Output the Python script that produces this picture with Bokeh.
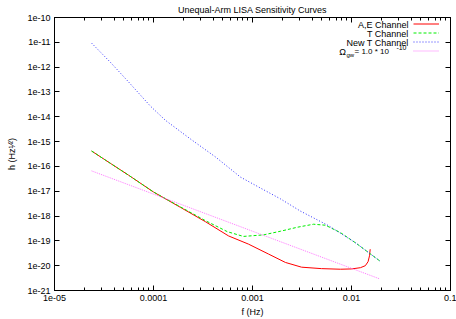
from bokeh.plotting import figure
from bokeh.models import (FixedTicker, CustomJSTickFormatter, LogAxis, Label,
                          Legend, LegendItem, Range1d, Title)
from bokeh.embed import file_html
from bokeh.resources import INLINE

# ---------------- data ----------------
title_text = "Unequal-Arm LISA Sensitivity Curves"
x_label = "f (Hz)"
y_label = "h (Hz\u00b9\u2044\u00b2)"
x_ticks = [1e-5, 1e-4, 1e-3, 1e-2, 1e-1]
x_minor = [m * 10.0 ** e for e in range(-5, -1) for m in range(2, 10)]
y_ticks = [10.0 ** e for e in range(-21, -9)]

series_names = ["A,E Channel", "T Channel", "New T Channel"]

ae_f = [2.37e-5, 3.68e-5, 5.58e-5, 1.0e-4, 1.87e-4, 3.35e-4, 5.73e-4, 9.1e-4,
        1.45e-3, 2.15e-3, 3.13e-3, 4.98e-3, 7.74e-3, 1.0e-2, 1.23e-2, 1.38e-2,
        1.47e-2, 1.52e-2, 1.545e-2]
ae_h = [4.17e-16, 1.32e-16, 4.47e-17, 9.3e-18, 2.24e-18, 5.9e-19, 1.58e-19, 7.4e-20,
        2.95e-20, 1.35e-20, 8.7e-21, 7.6e-21, 7.2e-21, 7.4e-21, 8.3e-21, 1.0e-20,
        1.45e-20, 2.5e-20, 4.6e-20]

t_f = [2.37e-5, 3.68e-5, 5.58e-5, 1.0e-4, 1.87e-4, 3.35e-4, 5.58e-4, 8.1e-4,
       1.29e-3, 1.92e-3, 2.85e-3, 4.13e-3, 5.46e-3, 7.74e-3, 1.1e-2, 1.92e-2]
t_h = [4.17e-16, 1.32e-16, 4.47e-17, 9.3e-18, 2.34e-18, 6.5e-19, 2.34e-19, 1.51e-19,
       1.74e-19, 2.45e-19, 3.55e-19, 4.68e-19, 4.27e-19, 2.14e-19, 8.3e-20, 1.58e-20]

newt_f = [2.37e-5, 3.68e-5, 5.58e-5, 9.3e-5, 1.32e-4, 2.37e-4, 4.23e-4, 7.57e-4,
          1.2e-3, 1.92e-3, 3.05e-3, 5.86e-3, 1.1e-2, 1.92e-2]
newt_h = [9.3e-12, 1.55e-12, 2.57e-13, 2.69e-14, 7.2e-15, 1.26e-15, 2.4e-16, 3.7e-17,
          1.35e-17, 4.9e-18, 1.58e-18, 4.1e-19, 8.3e-20, 1.58e-20]

omega_f = [2.37e-5, 1.0e-3, 1.92e-2]
omega_h = [6.6e-17, 2.45e-19, 2.95e-21]

FONT = "Liberation Sans"

p = figure(width=456, height=319, x_axis_type="log", y_axis_type="log",
           x_range=Range1d(1e-5, 0.1), y_range=Range1d(1e-21, 1e-10),
           output_backend="svg", toolbar_location=None,
           min_border_left=54, min_border_right=6, min_border_top=16,
           min_border_bottom=29)
p.grid.visible = False
p.outline_line_color = "black"
p.outline_line_width = 1
p.background_fill_color = "white"
p.border_fill_color = "white"

xfmt = CustomJSTickFormatter(code="""
const e = Math.round(Math.log10(tick));
if (e >= -4) { return tick.toFixed(-e); }
const a = Math.abs(e);
return "1e-" + (a < 10 ? "0" + a : "" + a);
""")
yfmt = CustomJSTickFormatter(code="""
const e = Math.round(Math.log10(tick));
return "1e" + e;
""")
nofmt = CustomJSTickFormatter(code="return '';")

def style_axis(ax, ticks, minor, show_labels, fmt):
    ax.ticker = FixedTicker(ticks=ticks, minor_ticks=minor)
    ax.formatter = fmt
    ax.major_tick_in = 5
    ax.major_tick_out = 0
    ax.minor_tick_in = 3
    ax.minor_tick_out = 0
    ax.axis_line_color = "black"
    ax.major_tick_line_color = "black"
    ax.minor_tick_line_color = "black"
    ax.major_label_text_font = FONT
    ax.major_label_text_color = "black"
    ax.axis_label_text_font = FONT
    ax.axis_label_text_font_style = "normal"
    ax.axis_label_text_font_size = "9px"
    ax.axis_label_text_color = "black"
    if show_labels:
        ax.major_label_text_font_size = "9px"
        ax.major_label_standoff = 4
    else:
        ax.major_label_text_font_size = "1px"
        ax.major_label_standoff = 0
        ax.major_label_text_alpha = 0

style_axis(p.xaxis[0], x_ticks, x_minor, True, xfmt)
style_axis(p.yaxis[0], y_ticks, [], True, yfmt)
p.yaxis[0].major_label_standoff = 4
p.xaxis[0].axis_label = x_label
p.xaxis[0].axis_label_standoff = 3
p.yaxis[0].axis_label = y_label
p.yaxis[0].axis_label_standoff = 7

top = LogAxis()
style_axis(top, x_ticks, x_minor, False, nofmt)
right = LogAxis()
style_axis(right, y_ticks, [], False, nofmt)
p.add_layout(right, "right")
title = Title(text=title_text, align="center", text_font=FONT, text_font_size="9px",
              text_font_style="normal", text_color="black", standoff=5, offset=0)
p.title_location = None
p.above = [top, title]

r_ae = p.line(ae_f, ae_h, line_color="#ff0000", line_width=1)
r_t = p.line(t_f, t_h, line_color="#00ee00", line_width=1, line_dash="3 2")
r_nt = p.line(newt_f, newt_h, line_color="#3030ff", line_width=1, line_dash="1 2")
r_om = p.line(omega_f, omega_h, line_color="#ff55ff", line_width=1, line_dash="1 1",
              line_alpha=0.8)

legend = Legend(items=[LegendItem(label=" ", renderers=[r]) for r in (r_ae, r_t, r_nt, r_om)],
                location=(359, 235), glyph_width=26, glyph_height=9, label_height=9,
                label_width=0, label_standoff=0, spacing=0, padding=0, margin=0,
                border_line_alpha=0, background_fill_alpha=0,
                label_text_font_size="1px")
p.add_layout(legend, "center")

def lab(text, x, y, size="9px", align="right", baseline="middle"):
    p.add_layout(Label(text=text, x=x, y=y, x_units="screen", y_units="screen",
                       text_font=FONT, text_font_size=size, text_align=align,
                       text_baseline=baseline, text_color="black"))

# legend texts
lab(series_names[0], 354, 266)
lab(series_names[1], 354, 257)
lab(series_names[2], 354, 248)
lab("-10", 352, 243, size="7px")
lab("= 1.0 * 10", 334.5, 239, size="8px")
lab("gw", 292, 236, size="6px", align="left")
lab("\u03a9", 291.5, 239)

open("out.html", "w").write(file_html(p, INLINE))
